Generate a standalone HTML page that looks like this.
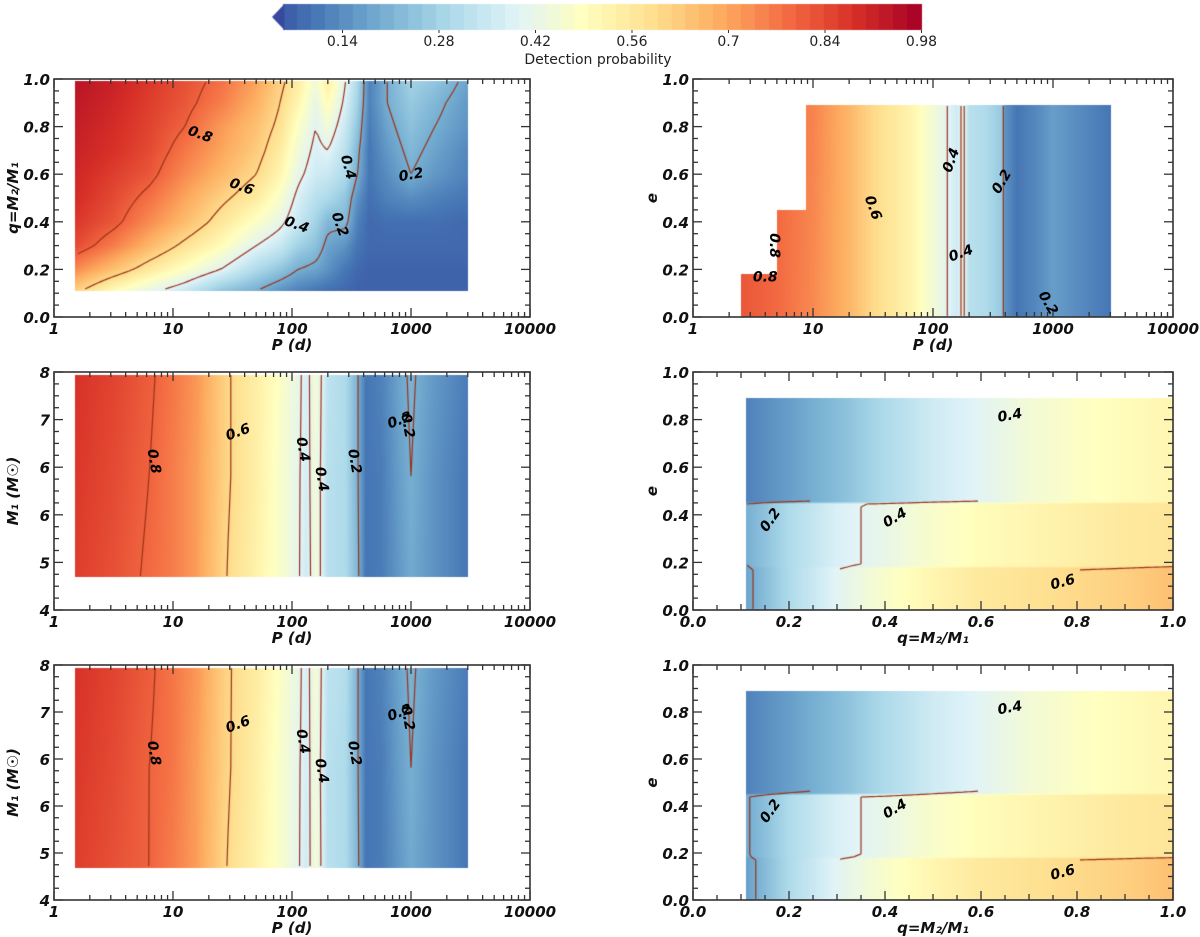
<!DOCTYPE html>
<html><head><meta charset="utf-8">
<style>
html,body{margin:0;padding:0;background:#fff;}
#wrap{position:relative;width:1200px;height:937px;overflow:hidden;}
canvas,svg{position:absolute;left:0;top:0;}
text{font-family:"DejaVu Sans","Liberation Sans",sans-serif;}
.tk{font-weight:bold;font-style:italic;font-size:15px;fill:#111;}
.at{font-weight:bold;font-style:italic;font-size:15px;fill:#111;}
.cl{font-weight:bold;font-style:italic;font-size:14px;fill:#000;}
.cb{font-size:14px;fill:#222;}
</style></head>
<body>
<div id="wrap">
<canvas id="cv" width="1200" height="937"></canvas>
<svg id="sv" width="1200" height="937" xmlns="http://www.w3.org/2000/svg"></svg>
</div>
<script>
// ---------- DATA ----------
// Panel 1: q vs log10 P
const p1X = [0.18,0.5,0.8,1.1,1.4,1.7,1.9,2.05,2.2,2.3,2.45,2.55,2.65,2.8,3.0,3.2,3.48];
const p1Y = [0.11,0.2,0.3,0.4,0.5,0.6,0.7,0.8,0.9,0.99];
const p1V = [
 [.62,.50,.42,.35,.25,.20,.15,.12,.10,.09,.08,.07,.07,.07,.07,.07,.07],
 [.74,.65,.56,.48,.40,.30,.25,.20,.18,.15,.10,.08,.07,.07,.07,.07,.07],
 [.84,.76,.67,.58,.50,.40,.35,.28,.24,.18,.15,.10,.08,.08,.08,.08,.08],
 [.87,.82,.74,.66,.57,.48,.42,.35,.28,.22,.22,.12,.08,.09,.09,.09,.08],
 [.89,.84,.78,.70,.62,.55,.47,.38,.32,.30,.25,.15,.09,.12,.14,.12,.10],
 [.90,.86,.82,.74,.67,.60,.52,.42,.36,.35,.30,.20,.10,.14,.20,.16,.12],
 [.91,.88,.84,.77,.70,.63,.55,.45,.38,.40,.32,.22,.10,.16,.22,.18,.13],
 [.92,.89,.85,.80,.72,.65,.58,.48,.40,.45,.35,.25,.11,.18,.24,.20,.15],
 [.93,.90,.86,.82,.76,.68,.60,.52,.42,.50,.38,.28,.12,.20,.26,.22,.16],
 [.94,.91,.87,.83,.78,.70,.62,.55,.45,.55,.40,.30,.12,.20,.28,.25,.18]
];
// Panels 2/3: M1 vs log10 P
const p2X = [0.18,0.5,0.8,1.0,1.2,1.45,1.7,1.9,2.05,2.12,2.2,2.3,2.45,2.55,2.62,2.75,2.9,3.0,3.2,3.48];
const p2Y = [4.55,6.25,7.95];
const p2V = [
 [.86,.83,.79,.76,.71,.60,.53,.47,.41,.36,.45,.32,.30,.22,.10,.11,.16,.19,.15,.10],
 [.87,.84,.80,.76,.71,.61,.54,.47,.41,.37,.45,.32,.30,.21,.10,.11,.17,.20,.15,.10],
 [.88,.85,.81,.77,.72,.61,.54,.48,.42,.37,.46,.33,.30,.21,.10,.12,.18,.21,.16,.11]
];
const p3V = [
 [.86,.83,.80,.76,.71,.60,.53,.47,.41,.36,.46,.32,.30,.22,.10,.11,.16,.19,.15,.10],
 [.87,.84,.80,.77,.71,.61,.54,.47,.41,.37,.45,.32,.30,.21,.10,.11,.17,.20,.15,.10],
 [.88,.85,.81,.77,.72,.61,.55,.48,.42,.37,.46,.33,.31,.21,.10,.12,.18,.21,.16,.11]
];
// Panel R1: e vs log10 P
const r1X = [0.4,0.7,1.0,1.3,1.5,1.8,2.0,2.12,2.2,2.25,2.3,2.45,2.57,2.6,2.7,2.85,3.0,3.2,3.48];
const r1Y = [0.0,0.89];
const r1V = [
 [.82,.79,.74,.67,.60,.53,.45,.40,.36,.42,.32,.30,.26,.15,.10,.13,.17,.14,.10],
 [.82,.79,.75,.67,.60,.53,.45,.40,.36,.42,.32,.30,.26,.15,.10,.13,.17,.14,.10]
];
const r1StepP = [2.5,5,8.7];
const r1StepE = [0.18,0.45,0.89];
// Panels R2/R3: e vs q
const r2X = [0.11,0.2,0.3,0.4,0.5,0.6,0.7,0.8,0.9,1.0];
const r2Y = [0.0,0.175,0.185,0.445,0.455,0.89];
const r2Bottom = [.18,.30,.40,.47,.52,.56,.58,.60,.62,.65];
const r2Middle = [.20,.30,.38,.42,.47,.50,.52,.54,.56,.57];
const r2Top    = [.12,.17,.23,.30,.36,.40,.45,.48,.50,.52];
const r3Bottom = [.17,.30,.40,.47,.52,.56,.58,.60,.62,.65];
const r3Middle = [.19,.30,.38,.42,.47,.50,.52,.54,.56,.57];
const r3Top    = [.12,.17,.23,.30,.36,.40,.45,.48,.50,.52];
const contourLevels = [0.2,0.4,0.6,0.8];
// contour label positions (data coords) & values
const lab1 = [["0.8",17,0.77,20],["0.6",38,0.55,20],["0.4",110,0.39,20],["0.2",255,0.39,70],["0.4",300,0.63,75],["0.2",1000,0.6,-10]];
const lab2 = [["0.8",7,6.5,80],["0.6",35,7.0,-20],["0.4",125,6.7,80],["0.4",180,6.2,80],["0.2",340,6.5,80],["0.2",800,7.2,-20],["0.2",950,7.1,80]];
const labR1 = [["0.8",4,0.17,0],["0.8",4.8,0.3,90],["0.6",32,0.46,70],["0.4",140,0.66,-70],["0.4",170,0.27,-20],["0.2",370,0.57,-60],["0.2",920,0.06,60]];
const labR2 = [["0.2",0.16,0.38,-55],["0.4",0.42,0.39,-30],["0.4",0.66,0.82,-10],["0.6",0.77,0.12,-15]];
const cbTicks = [0.14,0.28,0.42,0.56,0.7,0.84,0.98];

// ---------- helpers ----------
const stops = ["#313695","#4575b4","#74add1","#abd9e9","#e0f3f8","#ffffbf","#fee090","#fdae61","#f46d43","#d73027","#a50026"].map(h=>[parseInt(h.slice(1,3),16),parseInt(h.slice(3,5),16),parseInt(h.slice(5,7),16)]);
function cmap(v){let t=Math.max(0,Math.min(1,v/0.98))*(stops.length-1);let i=Math.min(stops.length-2,Math.floor(t));let f=t-i;
 return stops[i].map((c,k)=>Math.round(c+(stops[i+1][k]-c)*f));}
function seg(arr,x){if(x<=arr[0])return[0,0];for(let i=0;i<arr.length-1;i++){if(x<=arr[i+1])return[i,(x-arr[i])/(arr[i+1]-arr[i])];}return[arr.length-2,1];}
function bil(xs,ys,V,x,y){const[i,fx]=seg(xs,x);const[j,fy]=seg(ys,y);
 const a=V[j][i]+(V[j][i+1]-V[j][i])*fx;const b=V[j+1][i]+(V[j+1][i+1]-V[j+1][i])*fx;return a+(b-a)*fy;}
const L10=Math.log10;
const panels=[
 {name:"q-vs-period",x0:54,x1:530,y0:317,y1:79,xmin:0,xmax:4,ymin:0,ymax:1,log:true,
  f:(x,y)=>(x<p1X[0]||x>p1X[p1X.length-1]||y<p1Y[0]||y>p1Y[p1Y.length-1])?NaN:bil(p1X,p1Y,p1V,x,y),labs:lab1},
 {name:"m1-vs-period",x0:54,x1:530,y0:610,y1:372,xmin:0,xmax:4,ymin:4,ymax:8,log:true,
  f:(x,y)=>(x<p2X[0]||x>p2X[p2X.length-1]||y<p2Y[0]||y>p2Y[p2Y.length-1])?NaN:bil(p2X,p2Y,p2V,x,y),labs:lab2},
 {name:"m1-vs-period-2",x0:54,x1:530,y0:900,y1:665,xmin:0,xmax:4,ymin:4,ymax:8,log:true,
  f:(x,y)=>(x<p2X[0]||x>p2X[p2X.length-1]||y<p2Y[0]||y>p2Y[p2Y.length-1])?NaN:bil(p2X,p2Y,p3V,x,y),labs:lab2},
 {name:"e-vs-period",x0:693,x1:1173,y0:317,y1:79,xmin:0,xmax:4,ymin:0,ymax:1,log:true,
  f:(x,y)=>{const P=Math.pow(10,x);if(P<r1StepP[0]||x>r1X[r1X.length-1]||y<0)return NaN;
   let em=0;for(let k=0;k<r1StepP.length;k++)if(P>=r1StepP[k])em=r1StepE[k];if(y>em)return NaN;
   return bil(r1X,r1Y,r1V,Math.max(x,r1X[0]),y);},labs:labR1},
 {name:"e-vs-q",x0:693,x1:1173,y0:610,y1:372,xmin:0,xmax:1,ymin:0,ymax:1,log:false,
  f:(x,y)=>(x<r2X[0]||y>r2Y[r2Y.length-1]||y<0)?NaN:bil(r2X,r2Y,[r2Bottom,r2Bottom,r2Middle,r2Middle,r2Top,r2Top],x,y),labs:labR2},
 {name:"e-vs-q-2",x0:693,x1:1173,y0:900,y1:665,xmin:0,xmax:1,ymin:0,ymax:1,log:false,
  f:(x,y)=>(x<r2X[0]||y>r2Y[r2Y.length-1]||y<0)?NaN:bil(r2X,r2Y,[r3Bottom,r3Bottom,r3Middle,r3Middle,r3Top,r3Top],x,y),labs:labR2}
];
panels.forEach(p=>{
 p.sx=v=>p.x0+(v-p.xmin)/(p.xmax-p.xmin)*(p.x1-p.x0);
 p.sy=v=>p.y0+(v-p.ymin)/(p.ymax-p.ymin)*(p.y1-p.y0);
 p.ix=px=>p.xmin+(px-p.x0)/(p.x1-p.x0)*(p.xmax-p.xmin);
 p.iy=py=>p.ymin+(py-p.y0)/(p.y1-p.y0)*(p.ymax-p.ymin);
});

// ---------- heatmaps + contours ----------
const cv=document.getElementById('cv');const ctx=cv.getContext('2d');
const img=ctx.createImageData(1200,937);
panels.forEach(p=>{
 for(let py=p.y1;py<=p.y0;py++)for(let px=p.x0;px<=p.x1;px++){
  const v=p.f(p.ix(px+0.5),p.iy(py+0.5));if(isNaN(v))continue;
  const c=cmap(v);const o=(py*1200+px)*4;img.data[o]=c[0];img.data[o+1]=c[1];img.data[o+2]=c[2];img.data[o+3]=255;}
});
ctx.putImageData(img,0,0);
ctx.strokeStyle="#9a3318";ctx.lineWidth=1.2;
panels.forEach(p=>{
 const st=3;const W=Math.ceil((p.x1-p.x0)/st)+1,H=Math.ceil((p.y0-p.y1)/st)+1;const G=[];
 for(let j=0;j<H;j++){G.push([]);for(let i=0;i<W;i++)G[j].push(p.f(p.ix(p.x0+i*st),p.iy(p.y1+j*st)));}
 contourLevels.forEach(L=>{
  ctx.beginPath();
  for(let j=0;j<H-1;j++)for(let i=0;i<W-1;i++){
   const a=G[j][i],b=G[j][i+1],c=G[j+1][i+1],d=G[j+1][i];
   if(isNaN(a)||isNaN(b)||isNaN(c)||isNaN(d))continue;
   const X=p.x0+i*st,Y=p.y1+j*st;const pts=[];
   if((a-L)*(b-L)<0)pts.push([X+st*(L-a)/(b-a),Y]);
   if((b-L)*(c-L)<0)pts.push([X+st,Y+st*(L-b)/(c-b)]);
   if((d-L)*(c-L)<0)pts.push([X+st*(L-d)/(c-d),Y+st]);
   if((a-L)*(d-L)<0)pts.push([X,Y+st*(L-a)/(d-a)]);
   for(let k=0;k+1<pts.length;k+=2){ctx.moveTo(pts[k][0],pts[k][1]);ctx.lineTo(pts[k+1][0],pts[k+1][1]);}
  }
  ctx.stroke();
 });
});
// colorbar
const cbX=v=>246+v/0.14*96.5;
for(let k=0;k<46;k++){const v0=0.055+k*(0.98-0.055)/46,v1=0.055+(k+1)*(0.98-0.055)/46;const c=cmap((v0+v1)/2);
 ctx.fillStyle=`rgb(${c[0]},${c[1]},${c[2]})`;ctx.fillRect(Math.floor(cbX(v0)),4,Math.ceil(cbX(v1)-cbX(v0))+1,26);}
{const c=cmap(0.03);ctx.fillStyle=`rgb(${c[0]},${c[1]},${c[2]})`;ctx.beginPath();ctx.moveTo(272,17);ctx.lineTo(cbX(0.055)+0.5,4);ctx.lineTo(cbX(0.055)+0.5,30);ctx.closePath();ctx.fill();}

// ---------- SVG axes ----------
const NS="http://www.w3.org/2000/svg";const sv=document.getElementById('sv');
function mk(tag,attrs,parent){const e=document.createElementNS(NS,tag);for(const k in attrs)e.setAttribute(k,attrs[k]);(parent||sv).appendChild(e);return e;}
function line(g,x1,y1,x2,y2,w){mk('line',{x1,y1,x2,y2,stroke:'#333','stroke-width':w||1.3},g);}
cbTicks.forEach(v=>{const t=mk('text',{x:cbX(v),y:46,'text-anchor':'middle',class:'cb'});t.textContent=String(v);
 
 
 line(sv,cbX(v),30,cbX(v),33,1);});
{const t=mk('text',{x:598,y:64,'text-anchor':'middle',class:'cb'});t.textContent="Detection probability";
 
 }

const titles={
 "q-vs-period":["P (d)","q=M\u2082/M\u2081"],"m1-vs-period":["P (d)","M\u2081 (M\u2609)"],"m1-vs-period-2":["P (d)","M\u2081 (M\u2609)"],
 "e-vs-period":["P (d)","e"],"e-vs-q":["q=M\u2082/M\u2081","e"],"e-vs-q-2":["q=M\u2082/M\u2081","e"]};
panels.forEach(p=>{
 const g=mk('g',{});
 
 
 const top=p.y1,bot=p.y0,lft=p.x0,rgt=p.x1;
 if(p.log){
  for(let d=0;d<=4;d++){const x=p.sx(d);line(g,x,bot,x,bot-9);line(g,x,top,x,top+9);
   const t=mk('text',{x:x,y:bot+17,'text-anchor':'middle',class:'tk'},g);t.textContent=String(Math.pow(10,d));
   
   
   if(d<4)for(let m=2;m<=9;m++){const xm=p.sx(d+L10(m));line(g,xm,bot,xm,bot-5);line(g,xm,top,xm,top+5);}}
 } else {
  for(let k=0;k<=20;k++){const v=k*0.05,x=p.sx(v);const big=k%4===0;const med=k%2===0;const l=big?9:(med?6:5);
   line(g,x,bot,x,bot-l);line(g,x,top,x,top+l);
   if(big){const t=mk('text',{x:x,y:bot+17,'text-anchor':'middle',class:'tk'},g);t.textContent=v.toFixed(1);
    
    }}
 }
 const ny=20;for(let k=0;k<=ny;k++){const v=p.ymin+k*(p.ymax-p.ymin)/ny,y=p.sy(v);const big=k%4===0;const l=big?9:5;
  line(g,lft,y,lft+l,y);line(g,rgt,y,rgt-l,y);
  if(big){const t=mk('text',{x:lft-4,y:y+6,'text-anchor':'end',class:'tk'},g);t.textContent=p.ymax>1?String(Math.round(v)):v.toFixed(1);
   
   }}
 mk('rect',{x:lft,y:top,width:rgt-lft,height:bot-top,fill:'none',stroke:'#333','stroke-width':1.6},g);
 const xt=mk('text',{x:(lft+rgt)/2,y:bot+33,'text-anchor':'middle',class:'at'},g);xt.textContent=titles[p.name][0];
 
 
 const cy=(top+bot)/2;const yt=mk('text',{x:lft-36,y:cy,'text-anchor':'middle',class:'at',transform:`rotate(-90 ${lft-36} ${cy})`},g);
 yt.textContent=titles[p.name][1];
 
 
 p.labs.forEach(l=>{const xv=p.log?L10(l[1]):l[1];const X=p.sx(xv),Y=p.sy(l[2]);
  const t=mk('text',{x:X,y:Y+5,'text-anchor':'middle',class:'cl',transform:`rotate(${l[3]} ${X} ${Y})`},g);t.textContent=l[0];
  
  });
});
</script>
</body></html>
